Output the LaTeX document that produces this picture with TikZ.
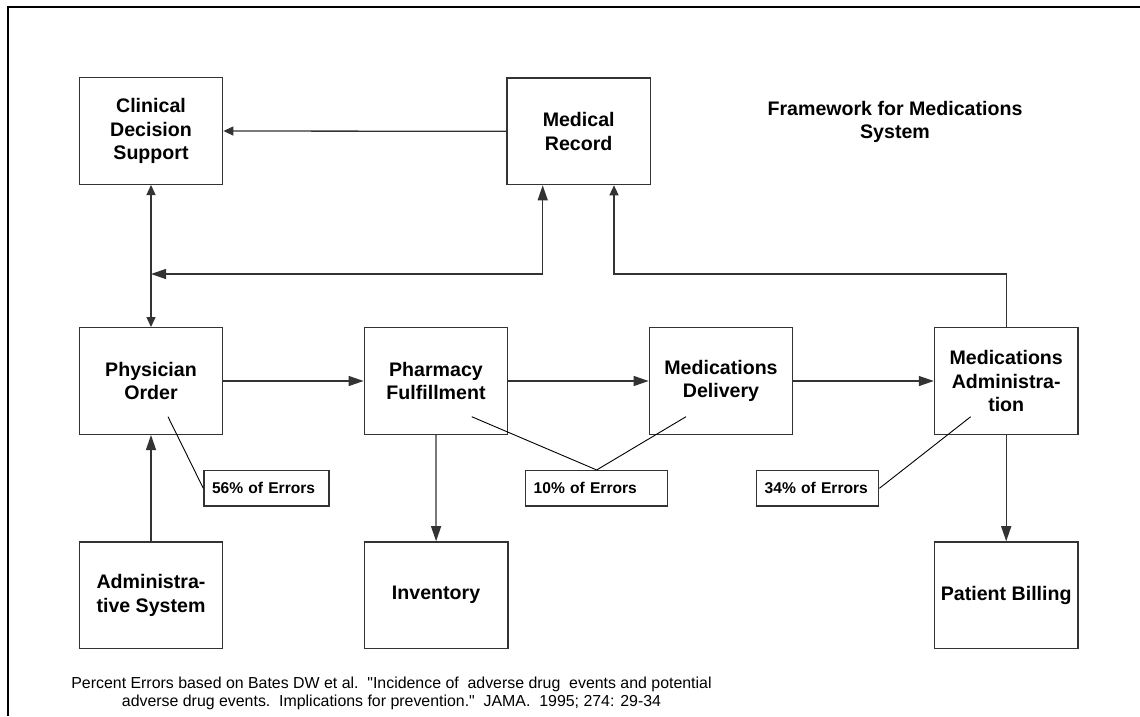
\documentclass[tikz,border=0pt]{standalone}
\usepackage{fontspec}
\setmainfont{Liberation Sans}
\usetikzlibrary{arrows.meta}
\tikzset{
  BigT/.tip={Triangle[length=15pt,width=10pt]},
  SmT/.tip={Triangle[length=10pt,width=9pt]},
  box/.style={draw=black!80, line width=1.4pt, minimum width=143.4pt, minimum height=106.6pt, inner sep=0pt, align=center, font=\bfseries\fontsize{19.6}{23.5}\selectfont},
  errbox/.style={draw=black!80, line width=1.4pt, minimum height=35.3pt, inner ysep=0pt, align=left, font=\bfseries\fontsize{15.6}{19}\selectfont},
  conn/.style={draw=black!80, line width=1.3pt},
  callout/.style={draw=black, line width=0.9pt}
}
\begin{document}
\begin{tikzpicture}[x=1pt,y=-1pt]
\useasboundingbox (0,0) rectangle (1140,716);
% frame
\draw[line width=2pt] (8,716) -- (8,6.5) -- (1140,6.5);
% boxes
\node[box] (cds) at (151,131) {Clinical\\Decision\\Support};
\node[box] (mr) at (578.7,131.3) {Medical\\Record};
\node[box] (po) at (151,381) {Physician\\Order};
\node[box] (pf) at (436,381) {Pharmacy\\Fulfillment};
\node[box] (md) at (721,381) {Medications\\Delivery};
\node[box] (ma) at (1006.2,381) {Medications\\Administra-\\tion};
\node[box] (adm) at (151,595.2) {Administra-\\tive System};
\node[box] (inv) at (436.1,595.2) {Inventory};
\node[box] (pb) at (1006.2,595.2) {Patient Billing};
% error boxes
\node[errbox, inner xsep=8pt, text width=109pt] (e56) at (266.5,488.3) {56\% of Errors};
\node[errbox, inner xsep=8pt, text width=126pt] (e10) at (596.7,488.3) {10\% of Errors};
\node[errbox, inner xsep=8pt, text width=106pt] (e34) at (817.7,488.3) {\mbox{34\% of Errors}};
% title and note
\node[font=\bfseries\fontsize{19.6}{23.5}\selectfont, align=center] (title) at (895,122) {Framework for Medications\\System};
\node[font=\fontsize{15.9}{18.7}\selectfont, align=center] (note) at (391.5,693.3) {Percent Errors based on Bates DW et al.\ \ \textquotedbl Incidence of\ \ adverse drug\ \ events and potential\\adverse drug events.\ \ Implications for prevention.\textquotedbl\ \ JAMA.\ \ 1995; 274: 29-34};
% connectors
\coordinate (j1) at (151,274);
\coordinate (mrA) at ([xshift=-36pt]mr.south);
\coordinate (mrB) at ([xshift=35.3pt]mr.south);
\draw[conn, -SmT] (mr.west) -- (cds.east);
\draw[conn, SmT-SmT] (cds.south) -- (po.north);
\draw[conn, BigT-BigT] (mrA) |- (j1);
\draw[conn, -SmT] (ma.north) -- (ma.north |- j1) -| (mrB);
\draw[conn, -BigT] (po.east) -- (pf.west);
\draw[conn, -BigT] (pf.east) -- (md.west);
\draw[conn, -BigT] (md.east) -- (ma.west);
\draw[conn, -BigT] (pf.south) -- (inv.north);
\draw[conn, -BigT] (adm.north) -- (po.south);
\draw[conn, -BigT] (ma.south) -- (pb.north);
% callouts
\draw[callout] ([shift={(17,35.7)}]po.center) -- (e56.west);
\draw[callout] ([shift={(35.7,35.7)}]pf.center) -- (e10.north) -- ([shift={(-35,35.7)}]md.center);
\draw[callout] ([shift={(-35.5,35.7)}]ma.center) -- (e34.east);
\end{tikzpicture}
\end{document}
